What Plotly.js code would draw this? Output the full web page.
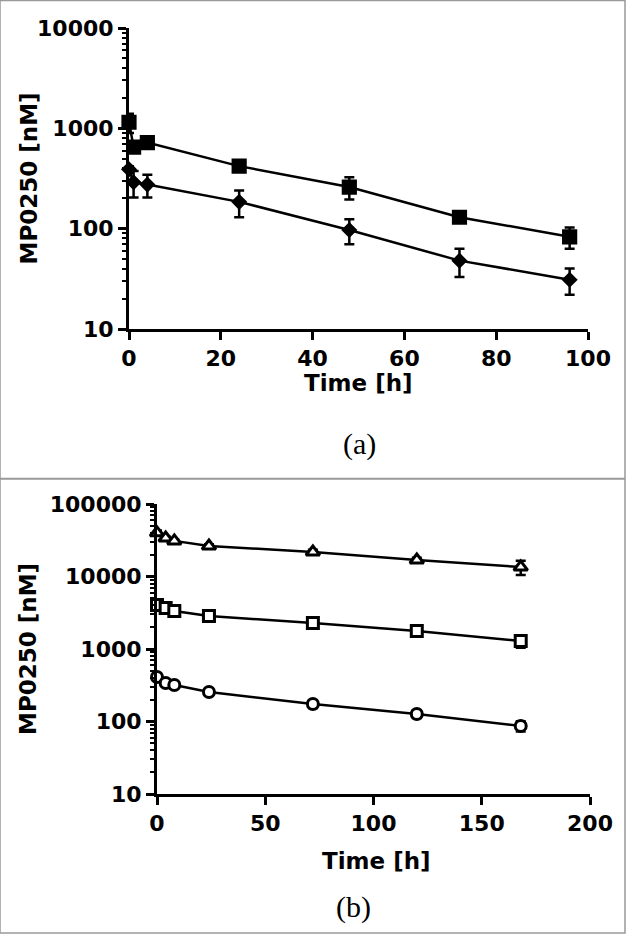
<!DOCTYPE html>
<html>
<head>
<meta charset="utf-8">
<script src="https://cdn.plot.ly/plotly-3.0.1.min.js"></script>
<style>
  body { margin: 0; background: #fff; }
  #pk_a { width: 626px; height: 479px; }
  #pk_b { width: 626px; height: 455px; }
</style>
</head>
<body>
<div id="pk_a"></div>
<div id="pk_b"></div>
<script>
// panel (a): two dose groups, 0-96 h
var time_a = [0, 1, 4, 24, 48, 72, 96];
var conc_a_high = [1150, 650, 720, 420, 260, 130, 83];
var err_a_high = [250, 60, 90, 50, 65, 10, 20];
var conc_a_low = [390, 290, 275, 185, 97, 48, 31];
var err_a_low = [30, 85, 70, 55, 27, 15, 9];

// panel (b): three dose groups, 0-168 h
var time_b = [0, 4, 8, 24, 72, 120, 168];
var conc_b_high = [40000, 34000, 31000, 26300, 21800, 16900, 13500];
var err_b_high = [3000, 1500, 1500, 1500, 1500, 1200, 3000];
var conc_b_mid = [4050, 3680, 3340, 2850, 2280, 1770, 1290];
var err_b_mid = [400, 200, 200, 150, 150, 150, 250];
var conc_b_low = [411, 340, 318, 255, 174, 127, 87];
var err_b_low = [40, 20, 15, 10, 20, 15, 14];

// log tick labels
var ticks_a = [10, 100, 1000, 10000];
var ticklabels_a = ['10', '100', '1000', '10000'];
var ticks_b = [10, 100, 1000, 10000, 100000];
var ticklabels_b = ['10', '100', '1000', '10000', '100000'];

var bold_font = {family: 'DejaVu Sans', size: 22, color: '#000', weight: 'bold'};
var title_font = {family: 'DejaVu Sans', size: 23, color: '#000', weight: 'bold'};
var label_font = {family: 'Liberation Serif, Times New Roman, serif', size: 30, color: '#000'};

function make_trace(x, y, err, symbol, size, fill, edge){
  return {
    x: x,
    y: y,
    mode: 'lines+markers',
    type: 'scatter',
    cliponaxis: false,
    line: {color: '#000', width: 2.5},
    marker: {symbol: symbol, size: size, color: fill, line: {color: '#000', width: edge}},
    error_y: {type: 'data', array: err, visible: true, color: '#000', thickness: 2.5, width: 5},
    showlegend: false
  };
}

function y_axis(range, vals, labels){
  return {
    type: 'log',
    range: range,
    tickmode: 'array',
    tickvals: vals,
    ticktext: labels,
    showgrid: false,
    zeroline: false,
    showline: true,
    linecolor: '#000',
    linewidth: 3,
    ticks: 'outside',
    ticklen: 8,
    tickwidth: 3,
    tickcolor: '#000',
    tickfont: bold_font,
    minor: {ticks: 'outside', ticklen: 4, tickwidth: 2, tickcolor: '#000', dtick: 'D1'}
  };
}

function x_axis(range, dtick){
  return {
    range: range,
    dtick: dtick,
    showgrid: false,
    zeroline: false,
    showline: true,
    linecolor: '#000',
    linewidth: 3,
    ticks: 'outside',
    ticklen: 8,
    tickwidth: 3,
    tickcolor: '#000',
    tickfont: bold_font
  };
}

function plot_panel_a(){
  const myDiv = document.getElementById('pk_a');

  var data = [
    make_trace(time_a, conc_a_high, err_a_high, 'square', 13, '#000', 2.2),
    make_trace(time_a, conc_a_low, err_a_low, 'diamond', 10, '#000', 2.2)
  ];

  var layout = {
    width: 626,
    height: 479,
    margin: {l: 129, r: 38, t: 28, b: 150},
    paper_bgcolor: '#fff',
    plot_bgcolor: '#fff',
    xaxis: x_axis([0, 100], 20),
    yaxis: y_axis([1, 4], ticks_a, ticklabels_a),
    annotations: [
      {text: 'MP0250 [nM]', xref: 'paper', yref: 'paper', x: (28 - 129) / 459, y: 0.5,
       textangle: -90, showarrow: false, font: title_font, xanchor: 'center', yanchor: 'middle'},
      {text: 'Time [h]', xref: 'paper', yref: 'paper', x: 0.5, y: -54 / 301,
       showarrow: false, font: title_font, xanchor: 'center', yanchor: 'middle'},
      {text: '(a)', xref: 'paper', yref: 'paper', x: 0.502, y: -115 / 301,
       showarrow: false, font: label_font, xanchor: 'center', yanchor: 'middle'}
    ],
    shapes: [
      {type: 'rect', xref: 'paper', yref: 'paper', x0: -129 / 459, x1: 1 + 37 / 459,
       y0: -149.5 / 301, y1: 1 + 27.5 / 301, line: {color: '#999', width: 1.5}}
    ]
  };

  Plotly.newPlot(myDiv, data, layout, {displayModeBar: false, staticPlot: true});
}

function plot_panel_b(){
  const myDiv = document.getElementById('pk_b');

  // open symbols drawn with a white fill so the line and error bars stay behind them
  var data = [
    make_trace(time_b, conc_b_high, err_b_high, 'triangle-up', 12, '#fff', 3),
    make_trace(time_b, conc_b_mid, err_b_mid, 'square', 11, '#fff', 3),
    make_trace(time_b, conc_b_low, err_b_low, 'circle', 11, '#fff', 3)
  ];

  var layout = {
    width: 626,
    height: 455,
    margin: {l: 157, r: 36, t: 25, b: 140},
    paper_bgcolor: '#fff',
    plot_bgcolor: '#fff',
    xaxis: x_axis([0, 200], 50),
    yaxis: y_axis([1, 5], ticks_b, ticklabels_b),
    annotations: [
      {text: 'MP0250 [nM]', xref: 'paper', yref: 'paper', x: (28 - 157) / 433, y: 0.5,
       textangle: -90, showarrow: false, font: title_font, xanchor: 'center', yanchor: 'middle'},
      {text: 'Time [h]', xref: 'paper', yref: 'paper', x: (376 - 157) / 433, y: -67 / 290,
       showarrow: false, font: title_font, xanchor: 'center', yanchor: 'middle'},
      {text: '(b)', xref: 'paper', yref: 'paper', x: (353 - 157) / 433, y: -113 / 290,
       showarrow: false, font: label_font, xanchor: 'center', yanchor: 'middle'}
    ],
    shapes: [
      {type: 'rect', xref: 'paper', yref: 'paper', x0: -157 / 433, x1: 1 + 35 / 433,
       y0: -139 / 290, y1: 1 + 25 / 290, line: {color: '#999', width: 1.5}}
    ]
  };

  Plotly.newPlot(myDiv, data, layout, {displayModeBar: false, staticPlot: true});
}

plot_panel_a();
plot_panel_b();
</script>
</body>
</html>
